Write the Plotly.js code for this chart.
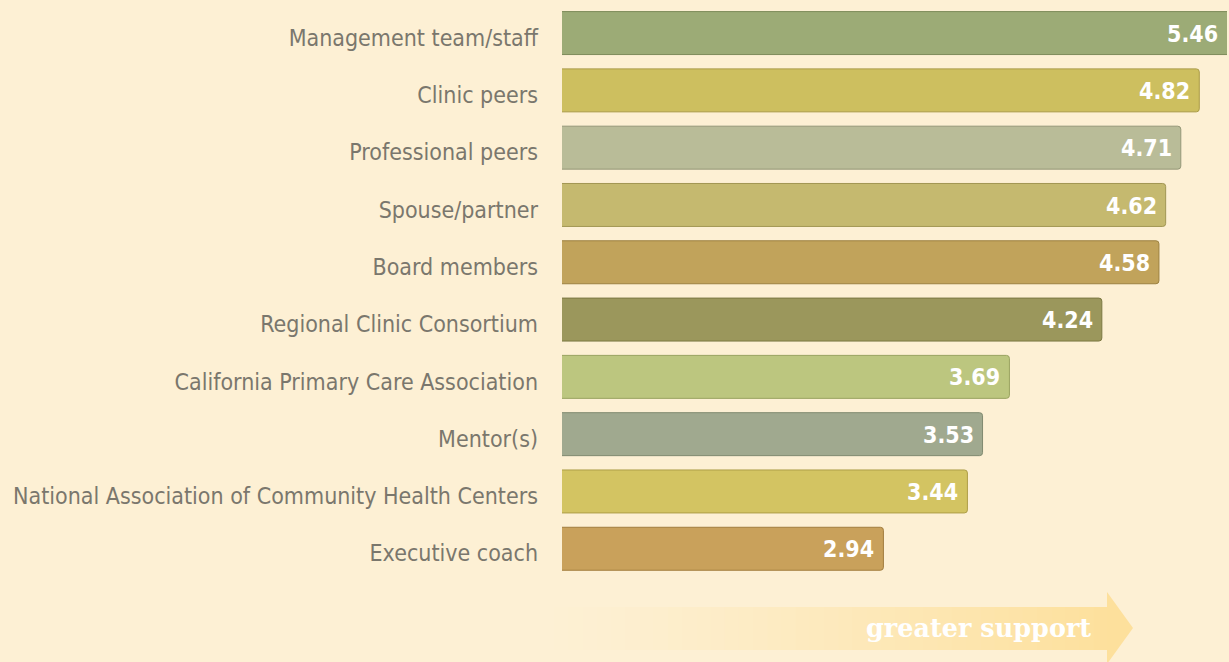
<!DOCTYPE html>
<html>
<head>
<meta charset="utf-8">
<script src="https://cdn.plot.ly/plotly-3.0.1.min.js"></script>
<style>
  html, body { margin: 0; padding: 0; background: #fdf0d4; }
  #chart { width: 1229px; height: 662px; }
</style>
</head>
<body>
<div id="chart"></div>
<script>
// ---- data ----
const categories = [
  "Management team/staff",
  "Clinic peers",
  "Professional peers",
  "Spouse/partner",
  "Board members",
  "Regional Clinic Consortium",
  "California Primary Care Association",
  "Mentor(s)",
  "National Association of Community Health Centers",
  "Executive coach"
];
const values = [5.46, 4.82, 4.71, 4.62, 4.58, 4.24, 3.69, 3.53, 3.44, 2.94];
const barColors = ["#9cab76", "#cdbf5f", "#b9bc98", "#c5b96f", "#c1a35b",
                   "#9b975c", "#bcc67f", "#a0a98f", "#d3c462", "#c9a15b"];
const lineColors = ["#7d8b5a", "#a99b45", "#959878", "#a19652", "#9c8140",
                    "#7b7842", "#98a25f", "#808a70", "#ad9e47", "#a27d3e"];
const arrowLabel = "greater support";

// ---- layout geometry ----
const W = 1229, H = 662;
const M = {l: 562, r: 2, t: 9, b: 80};
const xRange = [1.027, 4.985];
const plotW = W - M.l - M.r, plotH = H - M.t - M.b;
const px = x => (x - M.l) / plotW;
const py = y => (H - M.b - y) / plotH;

const bars = {
  type: "bar",
  orientation: "h",
  y: categories,
  x: values,
  width: 0.75,
  offset: -0.455,
  marker: {
    color: barColors,
    line: {color: lineColors, width: 1},
    cornerradius: 3
  },
  hoverinfo: "skip",
  showlegend: false
};

const annotations = values.map((v, i) => ({
  x: Math.min(v, xRange[1]),
  y: categories[i],
  xref: "x", yref: "y",
  text: v.toFixed(2),
  showarrow: false,
  xanchor: "right",
  yanchor: "middle",
  xshift: -7,
  yshift: 4,
  font: {family: "DejaVu Sans Condensed, DejaVu Sans", size: 23, color: "#ffffff", weight: "bold"}
}));

annotations.push({
  x: px(978), y: py(628), xref: "paper", yref: "paper",
  text: "<b>" + arrowLabel + "</b>",
  showarrow: false, xanchor: "center", yanchor: "middle",
  font: {family: "DejaVu Serif", size: 25.5, color: "#ffffff"}
});

// decorative arrow with horizontal gradient
const shapes = [];
const bg = [253, 240, 212], fg = [253, 224, 156];
const x0 = 540, x1 = 1108, N = 40;
for (let k = 0; k < N; k++) {
  const t = (k + 0.5) / N;
  const a = Math.pow(t, 1.3);
  const c = bg.map((b, j) => Math.round(b + (fg[j] - b) * a));
  shapes.push({
    type: "rect", xref: "paper", yref: "paper",
    x0: px(x0 + (x1 - x0) * k / N), x1: px(x0 + (x1 - x0) * (k + 1) / N + 0.6),
    y0: py(650), y1: py(607),
    fillcolor: `rgb(${c[0]},${c[1]},${c[2]})`, line: {width: 0}, layer: "below"
  });
}
shapes.push({
  type: "path", xref: "paper", yref: "paper",
  path: `M ${px(1107)} ${py(592)} L ${px(1133)} ${py(628)} L ${px(1107)} ${py(664)} Z`,
  fillcolor: "rgb(253,224,156)", line: {width: 0}, layer: "below"
});

const layout = {
  width: W, height: H,
  margin: M,
  paper_bgcolor: "#fdf0d4",
  plot_bgcolor: "#fdf0d4",
  xaxis: {
    range: xRange, showgrid: false, zeroline: false, showline: false,
    showticklabels: false, ticks: "", fixedrange: true
  },
  yaxis: {
    type: "category", autorange: false, range: [9.5, -0.5],
    showgrid: false, zeroline: false, showline: false, ticks: "",
    ticklabelstandoff: 23,
    tickfont: {family: "DejaVu Sans Condensed, DejaVu Sans", size: 23, color: "#7a776d"},
    automargin: false, fixedrange: true
  },
  annotations: annotations,
  shapes: shapes,
  showlegend: false
};

Plotly.newPlot("chart", [bars], layout, {displayModeBar: false, staticPlot: true});
</script>
</body>
</html>
